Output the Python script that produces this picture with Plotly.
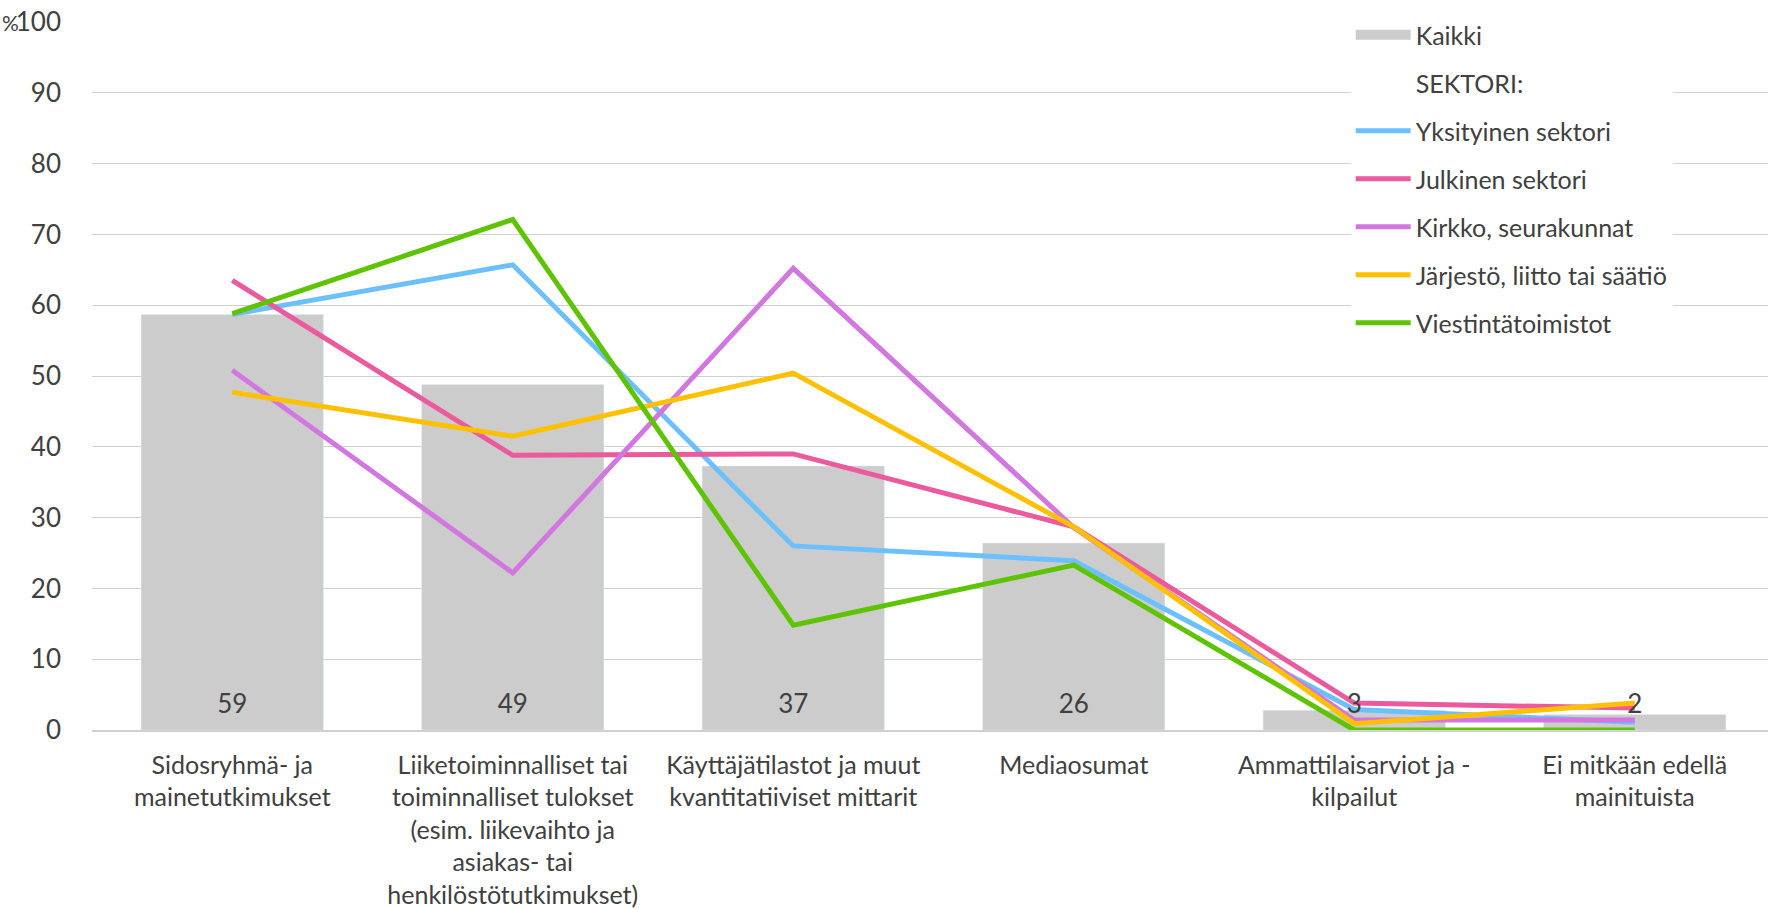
import plotly.graph_objects as go

categories = [
    "Sidosryhmä- ja<br>mainetutkimukset",
    "Liiketoiminnalliset tai<br>toiminnalliset tulokset<br>(esim. liikevaihto ja<br>asiakas- tai<br>henkilöstötutkimukset)",
    "Käyttäjätilastot ja muut<br>kvantitatiiviset mittarit",
    "Mediaosumat",
    "Ammattilaisarviot ja -<br>kilpailut",
    "Ei mitkään edellä<br>mainituista",
]
kaikki = [58.7, 48.8, 37.3, 26.4, 2.8, 2.2]
yksityinen = [58.7, 65.7, 26.0, 23.9, 2.9, 1.1]
julkinen = [63.5, 38.8, 39.0, 28.7, 3.8, 3.1]
kirkko = [50.8, 22.2, 65.2, 28.6, 1.4, 1.4]
jarjesto = [47.7, 41.5, 50.4, 28.7, 0.9, 3.8]
viestinta = [58.8, 72.1, 14.8, 23.3, 0.0, 0.0]

line_series = [
    ("Yksityinen sektori", yksityinen, "#6DC0FF"),
    ("Julkinen sektori", julkinen, "#EA5A9C"),
    ("Kirkko, seurakunnat", kirkko, "#D276E0"),
    ("Järjestö, liitto tai säätiö", jarjesto, "#FFC000"),
    ("Viestintätoimistot", viestinta, "#5EC300"),
]

FONT = "Lato, Carlito, 'Open Sans', sans-serif"
TXT = "#404040"
BAR_COL = "#CCCCCC"
LABEL_Y = 3.3

x = list(range(len(categories)))
fig = go.Figure()
fig.add_trace(go.Bar(
    x=x, y=kaikki, name="Kaikki", marker_color=BAR_COL,
    legendgroup="g0", showlegend=False, hoverinfo="skip",
))
# legend stand-in for the bar series (wide grey box)
fig.add_trace(go.Scatter(
    x=[None], y=[None], mode="lines", name="Kaikki",
    line=dict(color=BAR_COL, width=16), legendgroup="g0",
))
fig.add_trace(go.Scatter(
    x=[None], y=[None], mode="lines", name="SEKTORI:",
    line=dict(color="rgba(0,0,0,0)", width=0), legendgroup="g1",
))
for i, (name, vals, col) in enumerate(line_series):
    fig.add_trace(go.Scatter(
        x=x, y=vals, mode="lines", name=name,
        line=dict(color=col, width=5),
        legendgroup=f"g{i+2}",
    ))
fig.add_trace(go.Scatter(
    x=x, y=[LABEL_Y] * len(x), mode="text",
    text=[f"{round(v):d}" for v in kaikki],
    textfont=dict(family=FONT, size=26, color=TXT),
    showlegend=False, hoverinfo="skip",
))

fig.add_annotation(
    text="%", xref="paper", yref="paper", x=0, y=1,
    xanchor="left", yanchor="middle", xshift=-92, showarrow=False,
    font=dict(family=FONT, size=21, color=TXT),
)

fig.update_layout(
    width=1768, height=909,
    margin=dict(l=92, r=0, t=22, b=175),
    paper_bgcolor="white", plot_bgcolor="white",
    bargap=0.35,
    font=dict(family=FONT, color=TXT),
    legend=dict(
        x=0.751, y=1.014, xanchor="left", yanchor="top",
        bgcolor="white", font=dict(family=FONT, size=25, color=TXT),
        tracegroupgap=12.5, traceorder="grouped",
        entrywidth=300, entrywidthmode="pixels", itemwidth=55,
    ),
    xaxis=dict(
        range=[-0.5, 5.475], tickmode="array", tickvals=x, ticktext=categories,
        showgrid=False, showline=True, linecolor="#D0D0D0", linewidth=1.5,
        ticks="", tickfont=dict(family=FONT, size=25, color=TXT),
        zeroline=False, fixedrange=True, ticklabelstandoff=12,
    ),
    yaxis=dict(
        range=[0, 100], dtick=10, showgrid=True, gridcolor="#D0D0D0",
        gridwidth=1.2, zeroline=False, ticks="",
        tickfont=dict(family=FONT, size=26, color=TXT),
        ticklabelstandoff=30,
    ),
)

fig.write_html("out.html")
